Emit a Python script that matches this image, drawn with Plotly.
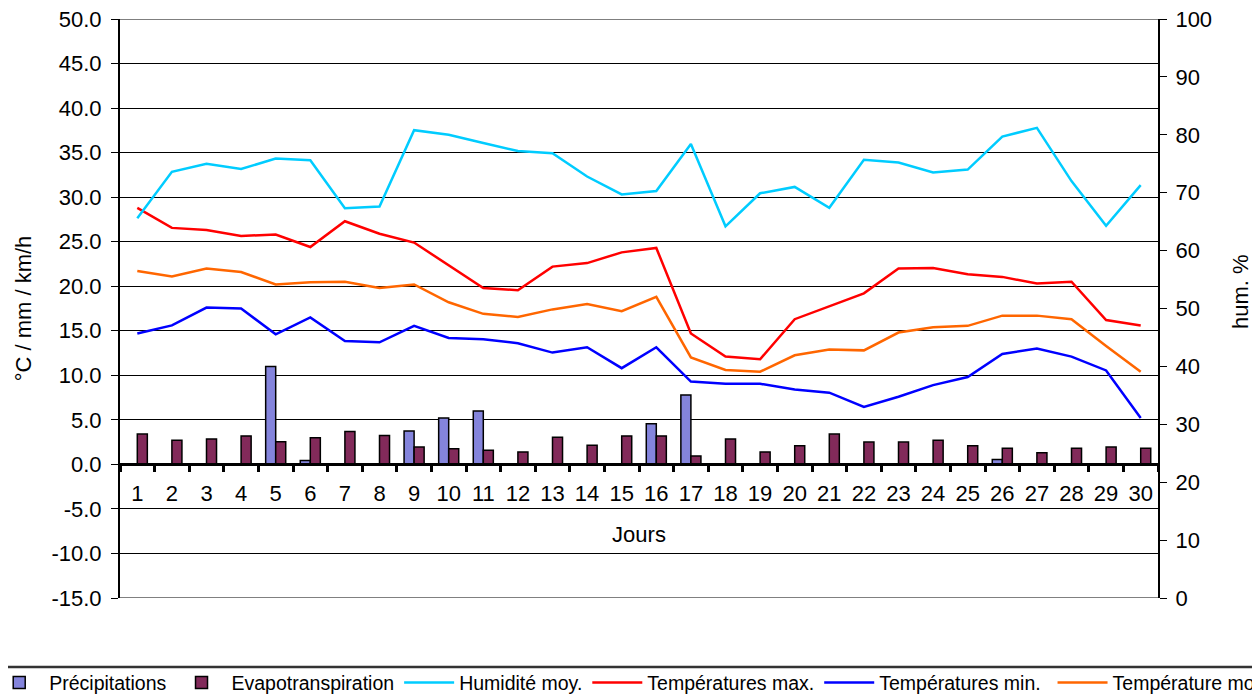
import plotly.graph_objects as go

# ---- data ----
days = [str(i) for i in range(1, 31)]
precipitations = [0, 0, 0, 0, 11.0, 0.45, 0, 0, 3.75, 5.2,
                  6.0, 0, 0, 0, 0, 4.55, 7.8, 0, 0, 0,
                  0, 0, 0, 0, 0, 0.55, 0, 0, 0, 0]
evapotranspiration = [3.4, 2.7, 2.85, 3.2, 2.55, 3.0, 3.7, 3.25, 1.95, 1.75,
                      1.6, 1.4, 3.05, 2.15, 3.2, 3.2, 0.95, 2.85, 1.4, 2.1,
                      3.4, 2.5, 2.5, 2.7, 2.1, 1.8, 1.3, 1.8, 1.95, 1.8]
humidite = [65.6, 73.6, 75.0, 74.1, 75.9, 75.6, 67.3, 67.6, 80.8, 80.0,
            78.6, 77.2, 76.8, 72.8, 69.7, 70.3, 78.4, 64.2, 69.9, 71.0,
            67.4, 75.7, 75.2, 73.5, 74.0, 79.7, 81.2, 72.0, 64.3, 71.3]
temp_max = [28.8, 26.55, 26.3, 25.65, 25.8, 24.4, 27.3, 25.9, 24.9, 22.3,
            19.8, 19.55, 22.2, 22.6, 23.8, 24.3, 14.7, 12.1, 11.8, 16.3,
            17.75, 19.2, 22.0, 22.05, 21.35, 21.05, 20.3, 20.5, 16.2, 15.6]
temp_min = [14.7, 15.6, 17.6, 17.5, 14.6, 16.5, 13.85, 13.7, 15.55, 14.2,
            14.05, 13.6, 12.55, 13.15, 10.8, 13.15, 9.3, 9.05, 9.05, 8.4,
            8.05, 6.45, 7.6, 8.9, 9.8, 12.4, 13.0, 12.1, 10.55, 5.2]
temp_moy = [21.7, 21.1, 22.0, 21.6, 20.2, 20.45, 20.5, 19.8, 20.2, 18.2,
            16.9, 16.55, 17.4, 18.0, 17.2, 18.8, 12.0, 10.6, 10.4, 12.25,
            12.9, 12.8, 14.8, 15.4, 15.55, 16.7, 16.7, 16.3, 13.3, 10.4]

names = ["Précipitations", "Evapotranspiration", "Humidité moy.",
         "Températures max.", "Températures min.", "Température moy."]

left_tickvals = [-15, -10, -5, 0, 5, 10, 15, 20, 25, 30, 35, 40, 45, 50]
left_ticktext = ["-15.0", "-10.0", "-5.0", "0.0", "5.0", "10.0", "15.0",
                 "20.0", "25.0", "30.0", "35.0", "40.0", "45.0", "50.0"]

FONT = "Liberation Sans, Arial, sans-serif"

fig = go.Figure()
fig.add_trace(go.Bar(x=days, y=precipitations, name=names[0],
                     marker=dict(color="#8484DC", line=dict(color="black", width=1.5)),
                     legend="legend"))
fig.add_trace(go.Bar(x=days, y=evapotranspiration, name=names[1],
                     marker=dict(color="#822A5A", line=dict(color="black", width=1.5)),
                     legend="legend"))
fig.add_trace(go.Scatter(x=days, y=humidite, name=names[2], mode="lines",
                         line=dict(color="#00CCFF", width=2.5), yaxis="y2",
                         legend="legend"))
fig.add_trace(go.Scatter(x=days, y=temp_max, name=names[3], mode="lines",
                         line=dict(color="#FF0000", width=2.5), legend="legend"))
fig.add_trace(go.Scatter(x=days, y=temp_min, name=names[4], mode="lines",
                         line=dict(color="#0000FF", width=2.5), legend="legend"))
fig.add_trace(go.Scatter(x=days, y=temp_moy, name=names[5], mode="lines",
                         line=dict(color="#FF6600", width=2.5), legend="legend2"))

ymin, ymax = -15, 50

# page body has an 8px default margin -> figure occupies (8..1260, 8..698)
fig.update_layout(
    width=1252, height=690,
    paper_bgcolor="white", plot_bgcolor="white",
    font=dict(family=FONT, size=22, color="black"),
    margin=dict(l=112, r=102, t=11, b=100, autoexpand=False),
    barmode="group", bargap=0.42, bargroupgap=0,
    showlegend=True,
    xaxis=dict(type="category", range=[-0.5, 29.5], tickson="boundaries",
               ticks="outside", ticklen=6, tickwidth=3, tickcolor="black",
               tickangle=0, ticklabelstandoff=8,
               showline=True, linewidth=3, linecolor="black",
               anchor="free", position=(0 - ymin) / (ymax - ymin),
               showgrid=False, zeroline=False,
               tickfont=dict(size=22), title=dict(text="Jours", font=dict(size=22), standoff=21)),
    yaxis=dict(range=[ymin, ymax], tickmode="array", tickvals=left_tickvals,
               ticktext=left_ticktext, ticklabeloverflow="allow",
               showgrid=True, gridcolor="black", gridwidth=1, zeroline=False,
               showline=True, linecolor="black", linewidth=2,
               ticks="outside", ticklen=7, tickcolor="black", ticklabelstandoff=5,
               tickfont=dict(size=22),
               title=dict(text="°C / mm / km/h", font=dict(size=22), standoff=14)),
    yaxis2=dict(range=[0, 100], dtick=10, overlaying="y", side="right",
                showgrid=False, zeroline=False, ticklabeloverflow="allow",
                showline=True, linecolor="black", linewidth=2,
                ticks="outside", ticklen=7, tickcolor="black", ticklabelstandoff=4,
                tickfont=dict(size=22)),
    annotations=[
        dict(text="hum. %", xref="paper", yref="paper", x=1.08, y=0.5285,
             xanchor="center", yanchor="middle", textangle=-90, showarrow=False,
             font=dict(size=22, family=FONT, color="black")),
    ],
    legend=dict(orientation="h", x=-0.126, xanchor="left", y=-0.1463, yanchor="middle",
                font=dict(size=19.5), itemwidth=50, bgcolor="rgba(0,0,0,0)",
                borderwidth=0, traceorder="normal"),
    legend2=dict(orientation="h", x=0.8984, xanchor="left", y=-0.1463, yanchor="middle",
                 font=dict(size=19.5), itemwidth=50, bgcolor="rgba(0,0,0,0)",
                 borderwidth=0),
    shapes=[
        dict(type="line", xref="paper", yref="paper", x0=-0.2, x1=1.3,
             y0=-0.1192, y1=-0.1192, line=dict(color="#333333", width=2.5)),
        dict(type="line", xref="paper", yref="y", x0=0, x1=1, y0=ymax, y1=ymax,
             line=dict(color="black", width=1), layer="below"),
        dict(type="line", xref="paper", yref="y", x0=0, x1=1, y0=ymin, y1=ymin,
             line=dict(color="black", width=1), layer="below"),
    ],
)

fig.write_html("out.html")
